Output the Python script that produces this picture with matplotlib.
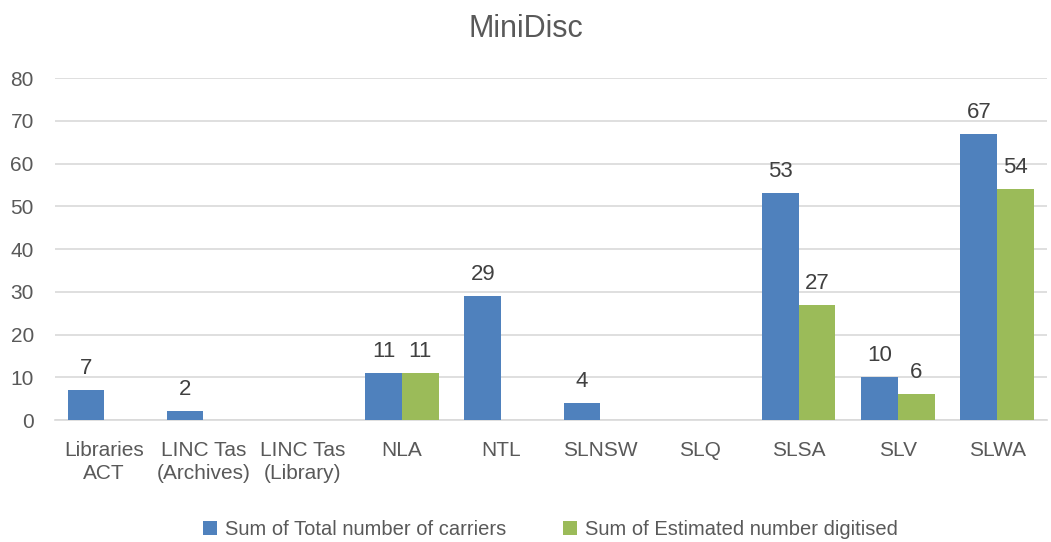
import numpy as np
import matplotlib
matplotlib.use("Agg")
import matplotlib.pyplot as plt

# data
categories = ["Libraries\nACT", "LINC Tas\n(Archives)", "LINC Tas\n(Library)", "NLA", "NTL",
              "SLNSW", "SLQ", "SLSA", "SLV", "SLWA"]
total_carriers = [7, 2, None, 11, 29, 4, None, 53, 10, 67]
est_digitised = [None, None, None, 11, None, None, None, 27, 6, 54]

series_names = ["Sum of Total number of carriers", "Sum of Estimated number digitised"]
colors = ["#4F81BD", "#9BBB59"]

plt.rcParams['font.family'] = ['Liberation Sans Narrow', 'Liberation Sans', 'DejaVu Sans']

fig = plt.figure(figsize=(10.51, 5.42), dpi=100)
ax = fig.add_axes([0.052, 0.225, 0.944, 0.631])

x = np.arange(len(categories))
w = 0.37
for i, (vals, col, name) in enumerate(zip([total_carriers, est_digitised], colors, series_names)):
    heights = [v if v is not None else 0 for v in vals]
    offs = -w / 2 if i == 0 else w / 2
    bars = ax.bar(x + offs, heights, width=w, color=col, label=name, zorder=3)
    for b, v in zip(bars, vals):
        if v is None:
            continue
        ax.annotate(str(v), (b.get_x() + b.get_width() / 2, v), xytext=(0, 8),
                    textcoords="offset points", ha="center", va="bottom",
                    fontsize=16, color="#404040")

ax.set_xlim(-0.5, len(categories) - 0.5)
ax.set_ylim(0, 80)
ax.set_yticks(range(0, 81, 10))
ax.grid(axis="y", color="#D9D9D9", linewidth=1.2, zorder=0)
ax.set_xticks(x)
ax.set_xticklabels(categories, linespacing=1.25)
ax.tick_params(axis="both", length=0, labelsize=15, colors="#595959")
ax.tick_params(axis="x", pad=15)
ax.tick_params(axis="y", pad=15)
for s in ["top", "right", "left"]:
    ax.spines[s].set_visible(False)
ax.spines["bottom"].set_color("#D9D9D9")
ax.spines["bottom"].set_linewidth(1.2)

fig.suptitle("MiniDisc", y=0.975, fontsize=22, color="#595959")

ax.legend(loc="lower center", bbox_to_anchor=(0.5, -0.40), ncol=2, frameon=False,
          fontsize=14.5, labelcolor="#595959", handlelength=0.7, handleheight=0.7,
          columnspacing=2.8, handletextpad=0.4)

fig.savefig("out.png", dpi=100)
